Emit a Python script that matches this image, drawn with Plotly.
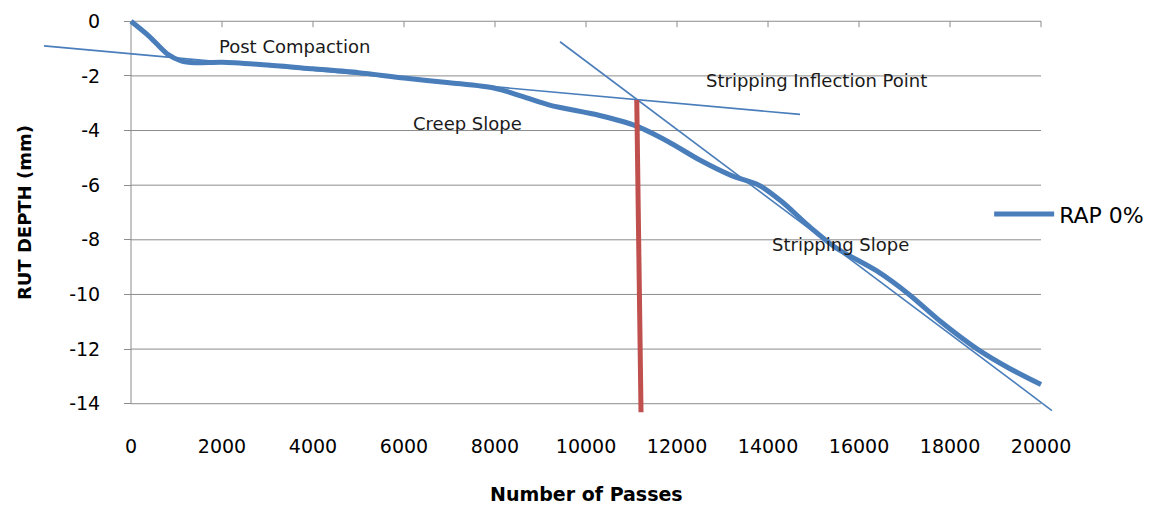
import plotly.graph_objects as go

# ---- data ----
passes = [0, 400, 800, 1100, 1400, 2000, 3000, 4000, 5000, 6000, 7000, 8000, 8600, 9200,
          10300, 11100, 11800, 12500, 13200, 13800, 14300, 14900, 15500, 16400, 17100,
          17800, 18600, 19300, 20000]
rut_depth = [0, -0.55, -1.2, -1.45, -1.52, -1.5, -1.6, -1.74, -1.88, -2.08, -2.25, -2.45,
             -2.75, -3.07, -3.45, -3.83, -4.4, -5.08, -5.65, -6.0, -6.6, -7.5, -8.3, -9.15,
             -10.0, -11.0, -12.0, -12.7, -13.3]

creep_x = [-1912, 14703]
creep_y = [-0.90, -3.41]
strip_x = [9429, 20240]
strip_y = [-0.75, -14.25]
infl_x = [11115, 11209]
infl_y = [-2.88, -14.31]

x_ticks = list(range(0, 20001, 2000))
y_ticks = [0, -2, -4, -6, -8, -10, -12, -14]

labels = ["Post Compaction", "Stripping Inflection Point", "Creep Slope", "Stripping Slope"]
label_x = [3604, 15055, 7385, 15582]
label_y = [-0.94, -2.17, -3.74, -8.18]

BLUE = "#4A7EBB"
RED = "#C0504D"
GRID = "#8C8C8C"
FONT = "DejaVu Sans"

x_range = [-2000, 20527]
y_range = [-14.889, 0.339]

fig = go.Figure()

fig.add_trace(go.Scatter(x=passes, y=rut_depth, mode="lines", name="RAP 0%",
                         line=dict(color=BLUE, width=5, shape="spline", smoothing=0.8)))
fig.add_trace(go.Scatter(x=creep_x, y=creep_y, mode="lines", showlegend=False,
                         line=dict(color=BLUE, width=1.6)))
fig.add_trace(go.Scatter(x=strip_x, y=strip_y, mode="lines", showlegend=False,
                         line=dict(color=BLUE, width=1.6)))
fig.add_trace(go.Scatter(x=infl_x, y=infl_y, mode="lines", showlegend=False,
                         line=dict(color=RED, width=5)))

shapes = []
for yv in y_ticks:
    shapes.append(dict(type="line", xref="x", yref="y", x0=0, x1=x_ticks[-1], y0=yv, y1=yv,
                       line=dict(color=GRID, width=1), layer="below"))
shapes.append(dict(type="line", xref="x", yref="y", x0=0, x1=0, y0=y_ticks[0], y1=y_ticks[-1],
                   line=dict(color=GRID, width=1), layer="below"))
for xv in x_ticks[1:]:
    shapes.append(dict(type="line", xref="x", yref="y", xsizemode="scaled", ysizemode="pixel",
                       yanchor=0, x0=xv, x1=xv, y0=0, y1=-6,
                       line=dict(color=GRID, width=1), layer="below"))

annotations = []
for t, xv, yv in zip(labels, label_x, label_y):
    annotations.append(dict(text=t, x=xv, y=yv, xref="x", yref="y", showarrow=False,
                            font=dict(family=FONT, size=18, color="#1a1a1a")))
annotations.append(dict(text="<b>Number of Passes</b>", x=10000, xref="x", y=-0.19, yref="paper",
                        showarrow=False, font=dict(family=FONT, size=19, color="black")))
annotations.append(dict(text="<b>RUT DEPTH (mm)</b>", x=-0.015, xanchor="center", y=-7,
                        xref="paper", yref="y", textangle=-90, showarrow=False,
                        font=dict(family=FONT, size=18, color="black")))

fig.update_layout(
    width=1160, height=508,
    margin=dict(l=40, r=95, t=10, b=80),
    paper_bgcolor="white", plot_bgcolor="white",
    font=dict(family=FONT, size=19, color="black"),
    shapes=shapes,
    annotations=annotations,
    showlegend=True,
    legend=dict(x=0.926, y=0.514, xanchor="left", yanchor="middle",
                font=dict(family=FONT, size=22, color="black"),
                bgcolor="rgba(0,0,0,0)", itemwidth=60),
    xaxis=dict(range=x_range, tickvals=x_ticks, ticktext=[str(v) for v in x_ticks],
               showgrid=False, zeroline=False, showline=False, ticks="",
               ticklabelstandoff=5,
               tickfont=dict(family=FONT, size=19, color="black")),
    yaxis=dict(range=y_range, tickvals=y_ticks, ticktext=[str(v) for v in y_ticks],
               anchor="free", position=(0 - x_range[0]) / (x_range[1] - x_range[0]),
               showgrid=False, zeroline=False, showline=False,
               ticks="outside", ticklen=7, tickcolor=GRID, ticklabelstandoff=20,
               tickfont=dict(family=FONT, size=19, color="black")),
)

fig.write_html("out.html")
